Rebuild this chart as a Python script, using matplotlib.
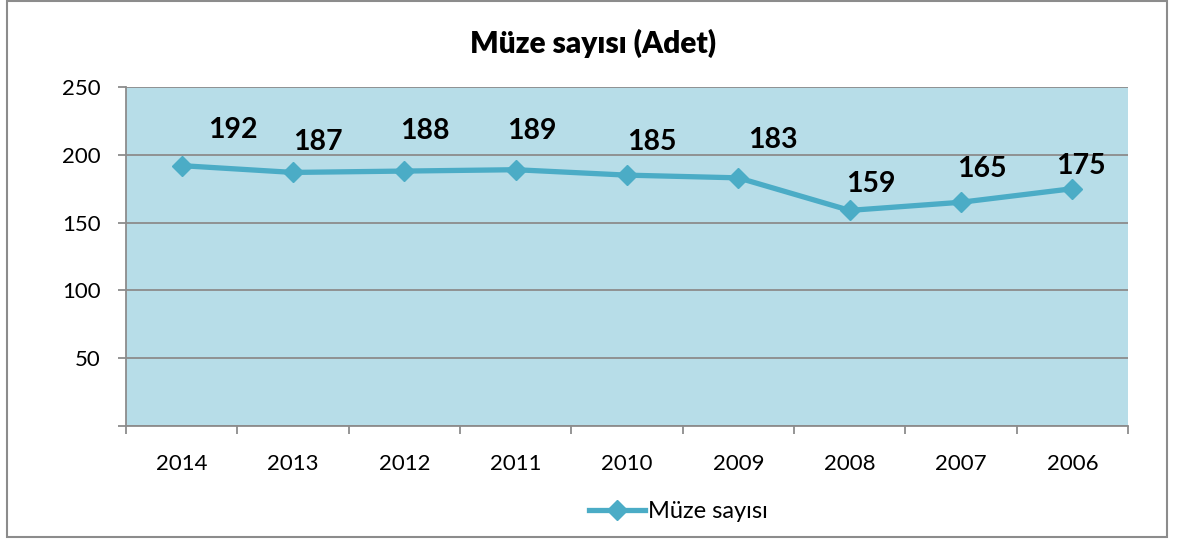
import matplotlib
matplotlib.use("Agg")
import matplotlib.pyplot as plt
from matplotlib.patches import Rectangle

years = ["2014", "2013", "2012", "2011", "2010", "2009", "2008", "2007", "2006"]
muze = [192, 187, 188, 189, 185, 183, 159, 165, 175]
y_ticks = [0, 50, 100, 150, 200, 250]
title = "Müze sayısı (Adet)"
series_name = "Müze sayısı"

# label offsets (points) relative to each marker
label_dx = [37, 18, 15, 12, 18, 25, 15, 15, 6]
label_dy = [26, 22, 29, 28, 24, 27, 19, 24, 16]

plt.rcParams['font.family'] = ['Lato', 'DejaVu Sans']
line_color = "#4BACC6"
grid_color = "#8C8C8C"

fig = plt.figure(figsize=(11.86, 5.40), dpi=100)
ax = fig.add_axes([126/1186, 1 - 426/540, (1128-126)/1186, (426-87)/540])
ax.set_facecolor("#B7DDE8")

x = list(range(len(years)))
ax.plot(x, muze, color=line_color, lw=3.8, marker="D", markersize=10.5,
        zorder=3, label=series_name, solid_joinstyle="round")
for xi, v, dx, dy in zip(x, muze, label_dx, label_dy):
    ax.annotate(str(v), (xi, v), xytext=(dx, dy), textcoords="offset points",
                ha="center", va="center", fontsize=20.5, fontweight="bold", color="black")

ax.set_xlim(-0.5, len(years) - 0.5)
ax.set_ylim(0, 250)
ax.set_yticks(y_ticks)
ax.set_yticklabels(["" if t == 0 else str(t) for t in y_ticks], fontsize=16)
ax.set_xticks(x)
ax.set_xticklabels(years, fontsize=16)
ax.tick_params(axis="x", length=0, pad=20)
ax.set_xticks([i - 0.5 for i in range(len(years) + 1)], minor=True)
ax.tick_params(axis="x", which="minor", length=6, width=1.3, color=grid_color, direction="out")
ax.tick_params(axis="y", length=6, width=1.3, color=grid_color, pad=12)
ax.yaxis.grid(True, color=grid_color, lw=1.3)
ax.set_axisbelow(True)
for s in ["top", "right"]:
    ax.spines[s].set_visible(False)
for s in ["left", "bottom"]:
    ax.spines[s].set_color(grid_color)
    ax.spines[s].set_linewidth(1.3)

fig.text(593/1186, 1 - 43/540, title, ha="center", va="center", fontsize=21.5, fontweight="heavy")

leg = fig.legend(loc="center", bbox_to_anchor=(678/1186, 1 - 512/540), frameon=False,
                 fontsize=17, handlelength=2.4, handletextpad=0.1)

fig.patches.append(Rectangle((7/1186, 3/540), (1167-7)/1186, (540-3-1)/540,
                             transform=fig.transFigure, fill=False, edgecolor="#8C8C8C", lw=1.5))

fig.savefig("out.png", dpi=100)
